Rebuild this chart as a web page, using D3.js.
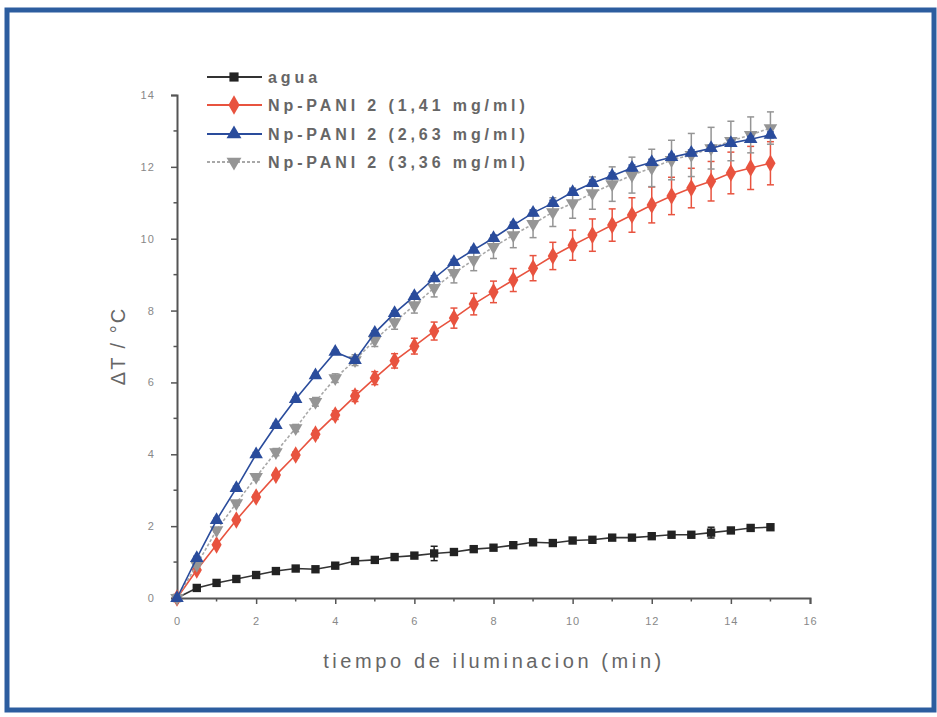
<!DOCTYPE html>
<html>
<head>
<meta charset="utf-8">
<script src="https://cdn.jsdelivr.net/npm/d3@7"></script>
<style>
html,body{margin:0;padding:0;background:#fff;}
svg{display:block;}
text{font-family:"Liberation Sans",Arial,sans-serif;}
</style>
</head>
<body>
<svg id="chart" width="937" height="717"></svg>
<script>
// ---- data ----
const time = [0,0.5,1,1.5,2,2.5,3,3.5,4,4.5,5,5.5,6,6.5,7,7.5,8,8.5,9,9.5,10,10.5,11,11.5,12,12.5,13,13.5,14,14.5,15];
const agua = [0,0.28,0.42,0.53,0.64,0.75,0.82,0.8,0.9,1.03,1.06,1.14,1.18,1.24,1.28,1.36,1.4,1.47,1.55,1.53,1.6,1.62,1.68,1.68,1.72,1.76,1.76,1.82,1.88,1.95,1.97];
const aguaErr = [0,0.04,0.04,0.04,0.04,0.04,0.04,0.04,0.04,0.05,0.05,0.05,0.06,0.2,0.06,0.06,0.06,0.05,0.05,0.05,0.05,0.05,0.05,0.05,0.05,0.06,0.06,0.15,0.06,0.05,0.05];
const np141 = [0,0.78,1.48,2.17,2.81,3.42,3.98,4.56,5.09,5.62,6.12,6.6,7.01,7.43,7.79,8.18,8.52,8.85,9.18,9.52,9.82,10.1,10.38,10.66,10.94,11.19,11.41,11.6,11.83,11.97,12.1];
const np141Err = [0,0.05,0.05,0.06,0.06,0.07,0.08,0.1,0.12,0.15,0.18,0.2,0.22,0.25,0.28,0.3,0.3,0.32,0.35,0.38,0.42,0.45,0.45,0.48,0.5,0.52,0.55,0.55,0.58,0.6,0.6];
const np263 = [0,1.11,2.17,3.06,4.0,4.81,5.54,6.2,6.85,6.62,7.38,7.93,8.4,8.9,9.35,9.69,10.02,10.38,10.72,10.99,11.3,11.55,11.75,11.97,12.13,12.27,12.39,12.52,12.66,12.77,12.89];
const np263Err = [0,0.05,0.05,0.05,0.05,0.05,0.05,0.05,0.05,0.05,0.06,0.06,0.06,0.07,0.07,0.07,0.08,0.08,0.08,0.08,0.08,0.08,0.08,0.08,0.08,0.08,0.08,0.08,0.08,0.08,0.08];
const np336 = [0,0.92,1.89,2.64,3.37,4.06,4.73,5.46,6.12,6.62,7.18,7.68,8.15,8.63,9.05,9.41,9.77,10.1,10.41,10.74,10.99,11.27,11.52,11.77,11.97,12.19,12.33,12.52,12.72,12.89,13.08];
const np336Err = [0,0.05,0.05,0.06,0.08,0.1,0.1,0.12,0.12,0.15,0.18,0.2,0.22,0.25,0.28,0.3,0.32,0.35,0.38,0.4,0.42,0.45,0.48,0.5,0.52,0.55,0.6,0.58,0.55,0.5,0.45];
const xTicks = [0,2,4,6,8,10,12,14,16];
const yTicks = [0,2,4,6,8,10,12,14];
const legendLabels = ["agua","Np-PANI 2 (1,41 mg/ml)","Np-PANI 2 (2,63 mg/ml)","Np-PANI 2 (3,36 mg/ml)"];

// ---- layout ----
const svg = d3.select("#chart");
const x = d3.scaleLinear().domain([0,16]).range([177,810]);
const y = d3.scaleLinear().domain([0,14]).range([598,95]);

// frame
svg.append("rect").attr("x",7).attr("y",10).attr("width",927).attr("height",700)
  .attr("fill","none").attr("stroke","#2c5d9f").attr("stroke-width",5);

const axisCol = "#555";
const labelCol = "#888";

// axes
const xAxis = d3.axisBottom(x).tickValues(xTicks).tickSize(6).tickFormat(d3.format("d"));
const yAxis = d3.axisLeft(y).tickValues(yTicks).tickSize(6).tickFormat(d3.format("d"));
const gx = svg.append("g").attr("transform","translate(0,598)").call(xAxis);
const gy = svg.append("g").attr("transform","translate(177,0)").call(yAxis);
// minor ticks
gx.selectAll(".minor").data(d3.range(1,16,2)).enter().append("line").attr("class","minor")
  .attr("x1",d=>x(d)).attr("x2",d=>x(d)).attr("y1",0).attr("y2",3.5);
gy.selectAll(".minor").data(d3.range(1,14,2)).enter().append("line").attr("class","minor")
  .attr("y1",d=>y(d)).attr("y2",d=>y(d)).attr("x1",0).attr("x2",-3.5);
[gx,gy].forEach(g=>{
  g.select(".domain").attr("stroke",axisCol).attr("stroke-width",2);
  g.selectAll("line").attr("stroke",axisCol).attr("stroke-width",1.5);
  g.selectAll("text").attr("fill",labelCol).attr("font-size",11).attr("letter-spacing",1);
});
gx.selectAll(".tick text").attr("dy","1.6em");
gy.selectAll(".tick text").attr("dx","-1.2em");

// axis titles
svg.append("text").attr("x",494).attr("y",668).attr("text-anchor","middle")
  .attr("fill","#666").attr("font-size",20).attr("letter-spacing",3.6)
  .text("tiempo de iluminacion (min)");
svg.append("text").attr("transform","translate(125,346) rotate(-90)").attr("text-anchor","middle")
  .attr("fill","#666").attr("font-size",20).attr("letter-spacing",2)
  .text("ΔT / °C");

// series
const series = [
  {vals:agua, err:aguaErr, color:"#222", line:"#333", sym:d3.symbolSquare, size:70, rot:0, dash:null},
  {vals:np141, err:np141Err, color:"#e8533f", line:"#e8533f", sym:d3.symbolDiamond, size:90, rot:0, dash:null},
  {vals:np336, err:np336Err, color:"#959595", line:"#a8a8a8", sym:d3.symbolTriangle, size:80, rot:180, dash:"3,2"},
  {vals:np263, err:np263Err, color:"#2a4c9c", line:"#2a4c9c", sym:d3.symbolTriangle, size:80, rot:0, dash:null}
];
const lineGen = d3.line().x(d=>x(d[0])).y(d=>y(d[1]));
series.forEach(s=>{
  const pts = time.map((t,i)=>[t,s.vals[i],s.err[i]]);
  const g = svg.append("g");
  g.append("path").attr("d",lineGen(pts)).attr("fill","none").attr("stroke",s.line)
    .attr("stroke-width",1.6).attr("stroke-dasharray",s.dash);
  // error bars
  const eb = g.selectAll(".eb").data(pts.filter(p=>p[2]>0)).enter().append("g");
  eb.append("line").attr("x1",d=>x(d[0])).attr("x2",d=>x(d[0]))
    .attr("y1",d=>y(d[1]-d[2])).attr("y2",d=>y(d[1]+d[2])).attr("stroke",s.color).attr("stroke-width",1.5);
  [-1,1].forEach(sg=>{
    eb.append("line").attr("x1",d=>x(d[0])-3.5).attr("x2",d=>x(d[0])+3.5)
      .attr("y1",d=>y(d[1]+sg*d[2])).attr("y2",d=>y(d[1]+sg*d[2])).attr("stroke",s.color).attr("stroke-width",1.5);
  });
  g.selectAll(".m").data(pts).enter().append("path")
    .attr("d",d3.symbol().type(s.sym).size(s.size))
    .attr("transform",d=>`translate(${x(d[0])},${y(d[1])}) rotate(${s.rot})`)
    .attr("fill",s.color);
});

// legend
const legOrder = [series[0],series[1],series[3],series[2]];
const legY = [77,105,134,162];
legOrder.forEach((s,i)=>{
  const gy0 = legY[i];
  svg.append("line").attr("x1",207).attr("x2",262).attr("y1",gy0).attr("y2",gy0)
    .attr("stroke",s.line).attr("stroke-width",2).attr("stroke-dasharray",s.dash);
  svg.append("path").attr("d",d3.symbol().type(s.sym).size(s.size*1.2)())
    .attr("transform",`translate(234,${gy0}) rotate(${s.rot})`).attr("fill",s.color);
  svg.append("text").attr("x",268).attr("y",gy0+5.5).attr("fill","#666")
    .attr("font-size",16).attr("font-weight","bold").attr("letter-spacing",3.9)
    .text(legendLabels[i]);
});
</script>
</body>
</html>
